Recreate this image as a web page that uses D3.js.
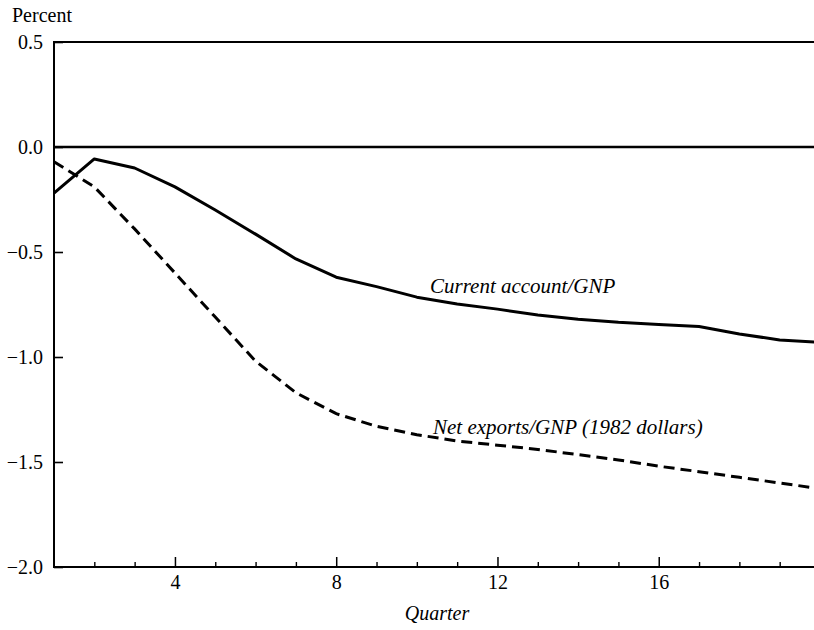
<!DOCTYPE html>
<html>
<head>
<meta charset="utf-8">
<script src="https://cdn.jsdelivr.net/npm/d3@7/dist/d3.min.js"></script>
<style>
  html, body { margin: 0; padding: 0; background: #fff; }
  svg { display: block; }
  svg text { font-family: "Liberation Serif", "Times New Roman", Times, "DejaVu Serif", serif !important; fill: #000; }
</style>
</head>
<body>
<svg id="chart" width="814" height="630"></svg>
<script>
// ---- data ----
const quarters = [1,2,3,4,5,6,7,8,9,10,11,12,13,14,15,16,17,18,19,20];
const currentAccount = [-0.22,-0.057,-0.10,-0.19,-0.30,-0.415,-0.533,-0.62,-0.665,-0.715,-0.748,-0.772,-0.80,-0.82,-0.835,-0.845,-0.855,-0.89,-0.919,-0.93];
const netExports = [-0.07,-0.19,-0.39,-0.60,-0.81,-1.02,-1.17,-1.27,-1.33,-1.37,-1.40,-1.42,-1.44,-1.465,-1.49,-1.52,-1.546,-1.573,-1.60,-1.627];
const yTicks = [0.5, 0.0, -0.5, -1.0, -1.5, -2.0];
const yTickLabels = ["0.5", "0.0", "\u22120.5", "\u22121.0", "\u22121.5", "\u22122.0"];
const xMajorTicks = [4, 8, 12, 16];
const xMinorTicks = [2,3,5,6,7,9,10,11,13,14,15,17,18,19];
const yLabel = "Percent";
const xLabel = "Quarter";
const seriesLabels = ["Current account/GNP", "Net exports/GNP (1982 dollars)"];

const FONT = '"Liberation Serif", "Times New Roman", Times, serif';

// ---- scales ----
const svg = d3.select("#chart");
const x = d3.scaleLinear().domain([1, 20]).range([54, 820]);
const y = d3.scaleLinear().domain([-2.0, 0.5]).range([567, 42]);

// ---- frame ----
const frame = svg.append("g").attr("stroke", "#000").attr("fill", "none");
frame.append("line").attr("x1", x(1)).attr("x2", x(20)).attr("y1", y(0.5)).attr("y2", y(0.5)).attr("stroke-width", 2);
frame.append("line").attr("x1", x(1)).attr("x2", x(20)).attr("y1", y(0)).attr("y2", y(0)).attr("stroke-width", 2.4);
frame.append("line").attr("x1", x(1)).attr("x2", x(20)).attr("y1", y(-2)).attr("y2", y(-2)).attr("stroke-width", 2);
frame.append("line").attr("x1", x(1)).attr("x2", x(1)).attr("y1", y(0.5) - 1).attr("y2", y(-2) + 1).attr("stroke-width", 2);

// ---- y axis ----
const yAxis = d3.axisLeft(y).tickValues(yTicks)
  .tickFormat((d, i) => yTickLabels[i]).tickSize(-9).tickPadding(11);
const gy = svg.append("g").attr("transform", `translate(${x(1)},0)`).call(yAxis)
  .attr("font-family", FONT).attr("font-size", 20);
gy.select(".domain").remove();
gy.selectAll(".tick line").attr("stroke", "#000").attr("stroke-width", 1.6);
gy.selectAll(".tick text").attr("font-size", 20).style("font-family", FONT).attr("dy", "0.34em");

// ---- x axis: major ----
const xAxis = d3.axisBottom(x).tickValues(xMajorTicks).tickFormat(d3.format("d")).tickSize(-10).tickPadding(8);
const gx = svg.append("g").attr("transform", `translate(0,${y(-2)})`).call(xAxis)
  .attr("font-family", FONT).attr("font-size", 20);
gx.select(".domain").remove();
gx.selectAll(".tick line").attr("stroke", "#000").attr("stroke-width", 1.5);
gx.selectAll(".tick text").attr("font-size", 20).style("font-family", FONT);

// ---- x axis: minor ----
const xMinor = d3.axisBottom(x).tickValues(xMinorTicks).tickFormat("").tickSize(-5);
const gxm = svg.append("g").attr("transform", `translate(0,${y(-2)})`).call(xMinor);
gxm.select(".domain").remove();
gxm.selectAll(".tick line").attr("stroke", "#000").attr("stroke-width", 1.4);

// ---- lines ----
const line = d3.line().x((d, i) => x(quarters[i])).y(d => y(d));
svg.append("path").datum(currentAccount).attr("d", line)
  .attr("fill", "none").attr("stroke", "#000").attr("stroke-width", 3).attr("stroke-linejoin", "round");
svg.append("path").datum(netExports).attr("d", line)
  .attr("fill", "none").attr("stroke", "#000").attr("stroke-width", 3)
  .attr("stroke-dasharray", "11,6");

// ---- labels ----
const lbl = svg.append("g").attr("font-family", FONT);
lbl.append("text").attr("x", 12).attr("y", 22).attr("font-size", 20).style("font-family", FONT).text(yLabel);
lbl.append("text").attr("x", 437).attr("y", 620).attr("font-size", 20).style("font-family", FONT)
  .attr("text-anchor", "middle").attr("font-style", "italic").text(xLabel);
lbl.append("text").attr("x", 430).attr("y", 293).attr("font-size", 21).style("font-family", FONT)
  .attr("font-style", "italic").text(seriesLabels[0]);
lbl.append("text").attr("x", 433).attr("y", 434).attr("font-size", 21).style("font-family", FONT)
  .attr("font-style", "italic").text(seriesLabels[1]);
</script>
</body>
</html>
